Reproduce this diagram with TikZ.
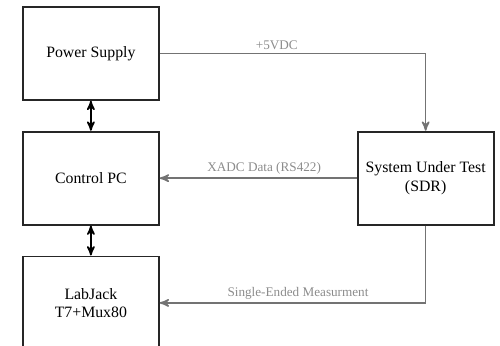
\documentclass[tikz,border=0pt]{standalone}
\usepackage{fontspec}
\setmainfont{Liberation Serif}
\usepackage{tikz}
\usetikzlibrary{arrows,positioning}

\begin{document}
\begin{tikzpicture}[>=stealth', semithick, node distance=0.6cm,
	block/.style={draw=black!85, line width=1pt, minimum width=2.72cm, minimum height=1.86cm, align=center, font=\fontsize{9}{10.5}\selectfont},
	wire/.style={->, draw=black!55, line width=0.9pt},
	link/.style={<->, draw=black, line width=0.9pt},
	tag/.style={text=black!45, font=\fontsize{7.5}{9}\selectfont, inner sep=1.5pt}]
				\useasboundingbox (0,0) rectangle (10,-6.9);
				\node[block, anchor=north west] (PSU) at (0.44,-0.12) {Power Supply};
				\node[block]         (PC) [below=of PSU]        {Control PC};
				\node[block]         (LJ) [below=of PC]         {LabJack\\T7+Mux80};
				\node[block]         (SUT) [right=3.94cm of PC] {System Under Test\\(SDR)};

				% power to the SDR
				\draw[wire] (PSU.east) -| node[tag, pos=0.22, above] {+5VDC} (SUT.north);
				% data back to the PC
				\draw[wire] (SUT.west) -- node[tag, above, pos=0.47] {XADC Data (RS422)} (PC.east);
				% analog measurement
				\draw[wire] (SUT.south) |- node[tag, above, pos=0.74] {Single-Ended Measurment} (LJ.east);

				\draw[link] (PSU) -- (PC);
				\draw[link] (PC) -- (LJ);
			\end{tikzpicture}
\end{document}
